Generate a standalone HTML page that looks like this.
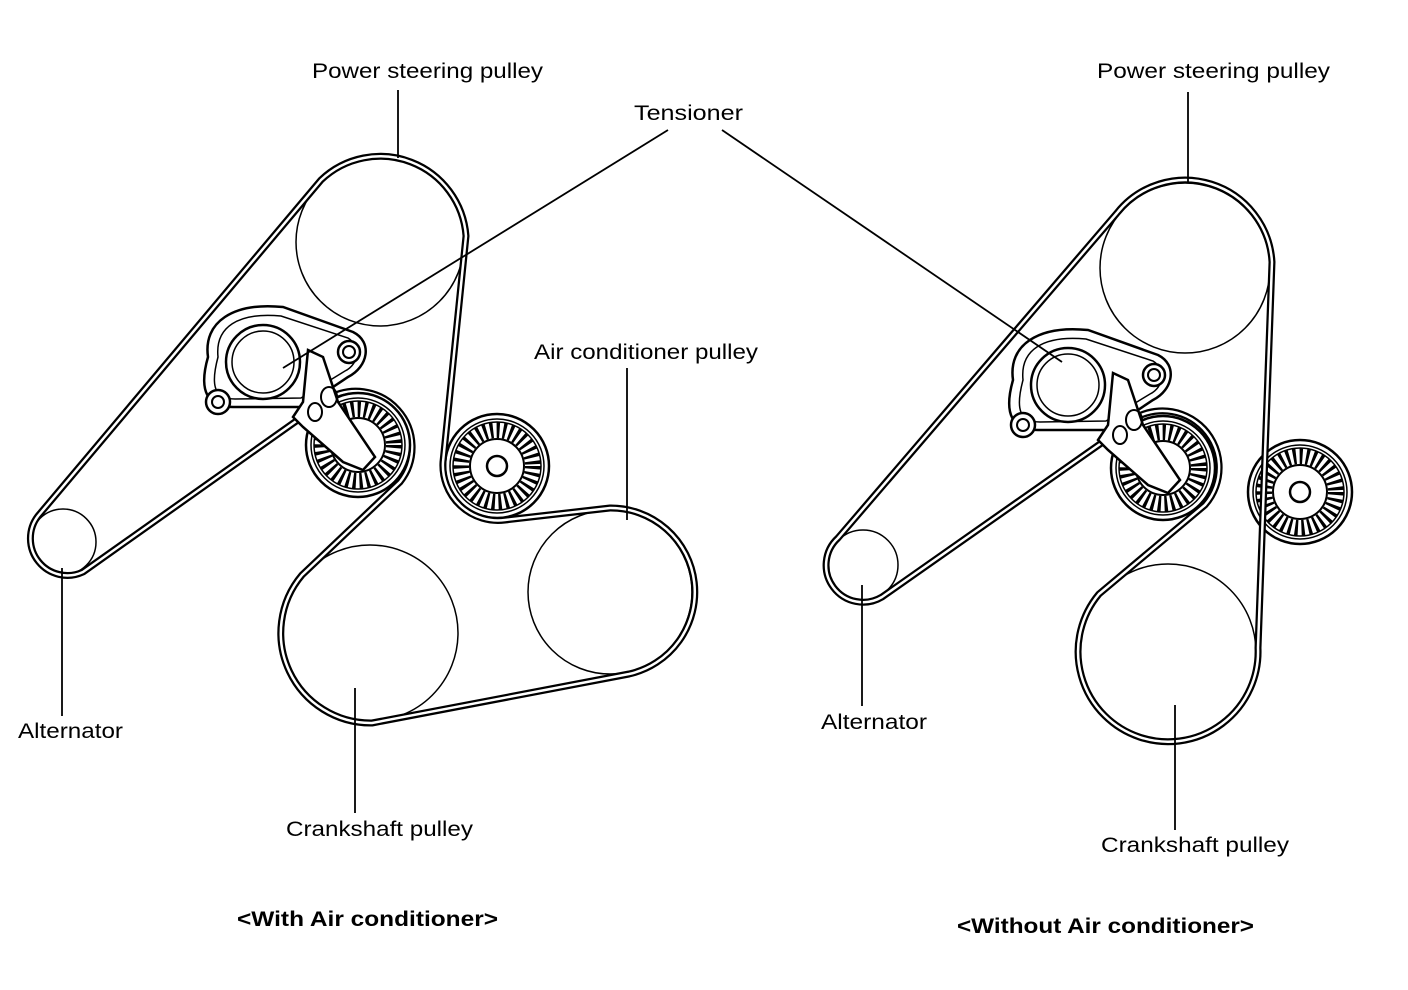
<!DOCTYPE html>
<html><head><meta charset="utf-8"><style>
html,body{margin:0;padding:0;background:#fff}
svg{display:block}
text{font-family:"Liberation Sans",Arial,sans-serif;font-size:21px;fill:#000}
</style></head><body>
<svg width="1408" height="990" viewBox="0 0 1408 990" xmlns="http://www.w3.org/2000/svg">
<defs>
<g id="ribbed">
  <circle r="52" fill="#fff" stroke="#000" stroke-width="2.5"/>
  <circle r="47" fill="none" stroke="#000" stroke-width="1.5"/>
  <circle r="36" fill="none" stroke="#000" stroke-width="16" stroke-dasharray="3 3.5"/>
  <circle r="44" fill="none" stroke="#000" stroke-width="1.5"/>
  <circle r="27" fill="#fff" stroke="#000" stroke-width="2"/>
</g>
<g id="tens">
  <use href="#ribbed" x="95" y="83"/>
  <path d="M -55,-5 C -60,-40 -30,-60 20,-55 L 90,-30 C 110,-20 105,5 85,15 L 40,45 L -30,45 C -55,45 -65,30 -55,-5 Z" fill="#fff" stroke="#000" stroke-width="2.5"/>
  <path d="M -45,-5 C -48,-35 -25,-50 18,-46 L 85,-24 C 98,-16 96,2 82,9 L 38,36 L -28,37 C -48,37 -53,25 -45,-5 Z" fill="none" stroke="#000" stroke-width="1.5"/>
  <circle r="37" fill="#fff" stroke="#000" stroke-width="2.5"/>
  <circle r="31" fill="none" stroke="#000" stroke-width="1.5"/>
  <circle cx="86" cy="-10" r="11" fill="#fff" stroke="#000" stroke-width="2.5"/>
  <circle cx="86" cy="-10" r="6" fill="none" stroke="#000" stroke-width="2"/>
  <circle cx="-45" cy="40" r="12" fill="#fff" stroke="#000" stroke-width="2.5"/>
  <circle cx="-45" cy="40" r="6" fill="none" stroke="#000" stroke-width="2"/>
  <path d="M 45,-12 L 60,-5 L 75,40 L 112,95 L 100,108 L 80,100 L 40,65 L 30,55 L 40,40 Z" fill="#fff" stroke="#000" stroke-width="2.5"/>
  <ellipse cx="66" cy="35" rx="8" ry="10" fill="none" stroke="#000" stroke-width="2"/>
  <ellipse cx="52" cy="50" rx="7" ry="9" fill="none" stroke="#000" stroke-width="2"/>
</g>
<g id="small">
  <use href="#ribbed"/>
  <circle r="10" fill="none" stroke="#000" stroke-width="2.5"/>
</g>
<path id="beltL" d="M 38,516 L 321,180 A 86 86 0 0 1 466,236 L 443,462 A 55 55 0 0 0 505,520 L 610,508 A 84 84 0 0 1 629,674 L 372,723 A 90 90 0 0 1 302,575 L 400,482 A 56 56 0 0 0 326,400 L 83,572 A 37 37 0 0 1 38,516 Z"/>
<path id="beltR" d="M 838,538 L 1117,213 A 87 87 0 0 1 1272,262 L 1258,648 A 90 90 0 1 1 1099,594 L 1205,505 A 56 56 0 0 0 1120,430 L 882,597 A 37 37 0 0 1 838,538 Z"/>
</defs>

<!-- LEFT DIAGRAM -->
<g fill="none" stroke="#000">
  <circle cx="380" cy="242" r="84" stroke-width="1.5"/>
  <circle cx="63" cy="542" r="33" stroke-width="1.5"/>
  <circle cx="370" cy="633" r="88" stroke-width="1.5"/>
  <circle cx="610" cy="592" r="82" stroke-width="1.5"/>
</g>
<use href="#small" x="497" y="466"/>
<g fill="none" stroke-linejoin="round">
  <use href="#beltL" stroke="#000" stroke-width="7"/>
  <use href="#beltL" stroke="#fff" stroke-width="2.5"/>
</g>
<use href="#tens" x="263" y="362"/>

<!-- RIGHT DIAGRAM -->
<g fill="none" stroke="#000">
  <circle cx="1185" cy="268" r="85" stroke-width="1.5"/>
  <circle cx="863" cy="565" r="35" stroke-width="1.5"/>
  <circle cx="1168" cy="652" r="88" stroke-width="1.5"/>
</g>
<use href="#small" x="1300" y="492"/>
<g fill="none" stroke-linejoin="round">
  <use href="#beltR" stroke="#000" stroke-width="7"/>
  <use href="#beltR" stroke="#fff" stroke-width="2.5"/>
</g>
<use href="#tens" x="1068" y="385"/>

<!-- leader lines -->
<g stroke="#000" stroke-width="1.8" fill="none">
  <line x1="398" y1="90" x2="398" y2="158"/>
  <line x1="668" y1="130" x2="283" y2="368"/>
  <line x1="722" y1="130" x2="1062" y2="362"/>
  <line x1="627" y1="368" x2="627" y2="520"/>
  <line x1="62" y1="568" x2="62" y2="716"/>
  <line x1="355" y1="688" x2="355" y2="813"/>
  <line x1="1188" y1="92" x2="1188" y2="182"/>
  <line x1="862" y1="585" x2="862" y2="706"/>
  <line x1="1175" y1="705" x2="1175" y2="830"/>
</g>

<!-- labels -->
<text x="312" y="78" textLength="231" lengthAdjust="spacingAndGlyphs">Power steering pulley</text>
<text x="634" y="120" textLength="109" lengthAdjust="spacingAndGlyphs">Tensioner</text>
<text x="534" y="359" textLength="224" lengthAdjust="spacingAndGlyphs">Air conditioner pulley</text>
<text x="18" y="738" textLength="105" lengthAdjust="spacingAndGlyphs">Alternator</text>
<text x="286" y="836" textLength="187" lengthAdjust="spacingAndGlyphs">Crankshaft pulley</text>
<text x="237" y="926" font-weight="bold" textLength="261" lengthAdjust="spacingAndGlyphs">&lt;With Air conditioner&gt;</text>
<text x="1097" y="78" textLength="233" lengthAdjust="spacingAndGlyphs">Power steering pulley</text>
<text x="821" y="729" textLength="106" lengthAdjust="spacingAndGlyphs">Alternator</text>
<text x="1101" y="852" textLength="188" lengthAdjust="spacingAndGlyphs">Crankshaft pulley</text>
<text x="957" y="933" font-weight="bold" textLength="297" lengthAdjust="spacingAndGlyphs">&lt;Without Air conditioner&gt;</text>
</svg>
</body></html>
